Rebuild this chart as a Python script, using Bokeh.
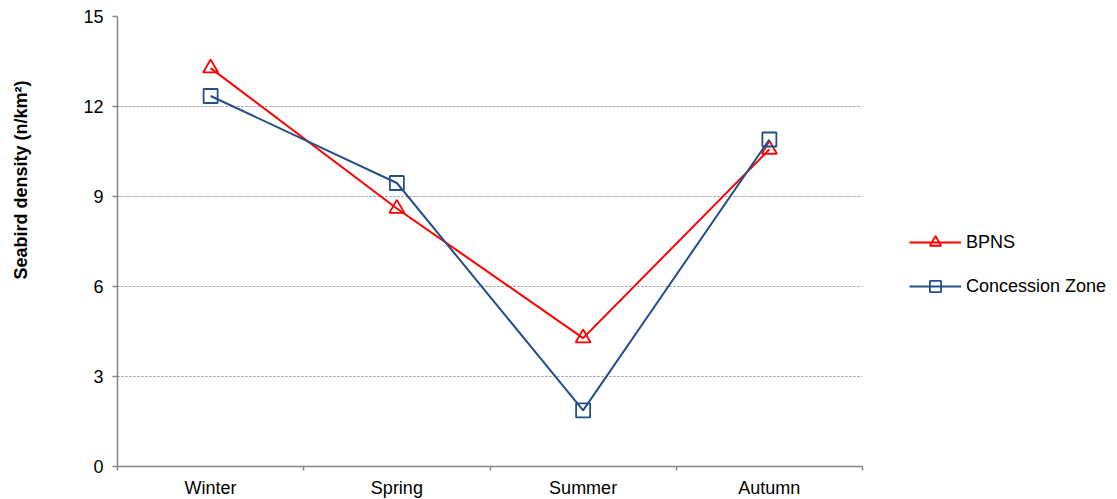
from bokeh.plotting import figure
from bokeh.models import Range1d, FixedTicker, Legend, LegendItem, Title, LinearAxis
from bokeh.embed import file_html
from bokeh.resources import INLINE

seasons = ["Winter", "Spring", "Summer", "Autumn"]
bpns = [13.28, 8.6, 4.28, 10.57]
concession = [12.35, 9.45, 1.87, 10.9]
y_ticks = [0, 3, 6, 9, 12, 15]

FONT = "Liberation Sans"
RED = "#FF0000"
BLUE = "#244F89"
AXIS = "#868686"

xs = [i + 0.5 for i in range(len(seasons))]

p = figure(frame_width=745, frame_height=450, output_backend="svg", toolbar_location=None,
           x_range=Range1d(0, len(seasons)), y_range=Range1d(0, 15),
           min_border_left=117, min_border_top=16, min_border_right=20,
           min_border_bottom=33)
p.outline_line_color = None
p.background_fill_color = "white"
p.border_fill_color = "white"

# x axis
xa = p.xaxis[0]
xa.ticker = FixedTicker(ticks=xs, minor_ticks=list(range(len(seasons) + 1)))
xa.major_label_overrides = {x: s for x, s in zip(xs, seasons)}
xa.major_tick_out = 0
xa.major_tick_in = 0
xa.minor_tick_out = 4
xa.minor_tick_in = 0
xa.minor_tick_line_color = AXIS
xa.minor_tick_line_width = 1.5
xa.axis_line_color = AXIS
xa.axis_line_width = 1.5
xa.major_label_text_font = FONT
xa.major_label_text_font_size = "18px"
xa.major_label_text_color = "black"
xa.major_label_standoff = 7

# y axis
ya = p.yaxis[0]
ya.ticker = FixedTicker(ticks=y_ticks, minor_ticks=[])
ya.major_tick_out = 5
ya.major_tick_in = 0
ya.major_tick_line_color = AXIS
ya.major_tick_line_width = 1.5
ya.axis_line_color = AXIS
ya.axis_line_width = 1.5
ya.major_label_text_font = FONT
ya.major_label_text_font_size = "18px"
ya.major_label_text_color = "black"
ya.major_label_standoff = 9

# empty spacer axis between the y axis and its title
spacer = LinearAxis(ticker=FixedTicker(ticks=[0], minor_ticks=[]),
                    major_label_overrides={0: ""},
                    major_tick_out=45, major_tick_in=0, minor_tick_out=0,
                    major_label_standoff=0, axis_line_color=None,
                    major_tick_line_color=None, minor_tick_line_color=None,
                    major_label_text_font_size="1px")
p.add_layout(spacer, "left")

p.xgrid.visible = False
p.ygrid.ticker = FixedTicker(ticks=y_ticks[1:])
p.ygrid.grid_line_color = "#8c8c8c"
p.ygrid.grid_line_dash = "2 2"
p.ygrid.grid_line_width = 1

# series
r1l = p.line(xs, bpns, line_color=RED, line_width=2)
r1m = p.scatter(xs, bpns, marker="triangle", size=15, fill_color=None,
                line_color=RED, line_width=1.8)
r2l = p.line(xs, concession, line_color=BLUE, line_width=2)
r2m = p.scatter(xs, concession, marker="square", size=14, fill_color=None,
                line_color=BLUE, line_width=1.8)

legend = Legend(items=[LegendItem(label="BPNS", renderers=[r1l, r1m]),
                       LegendItem(label="Concession Zone", renderers=[r2l, r2m])],
                location=(47, 166), orientation="vertical",
                border_line_color=None, background_fill_alpha=0,
                glyph_width=52, glyph_height=28, label_standoff=5,
                spacing=16, padding=5, margin=24,
                label_text_font=FONT, label_text_font_size="18px",
                label_text_color="black")
p.add_layout(legend, "right")

ytitle = Title(text="Seabird density (n/km²)", align="right", offset=64,
               text_font=FONT, text_font_size="18px", text_font_style="bold",
               text_color="black")
p.add_layout(ytitle, "left")

open("out.html", "w").write(file_html(p, INLINE))
